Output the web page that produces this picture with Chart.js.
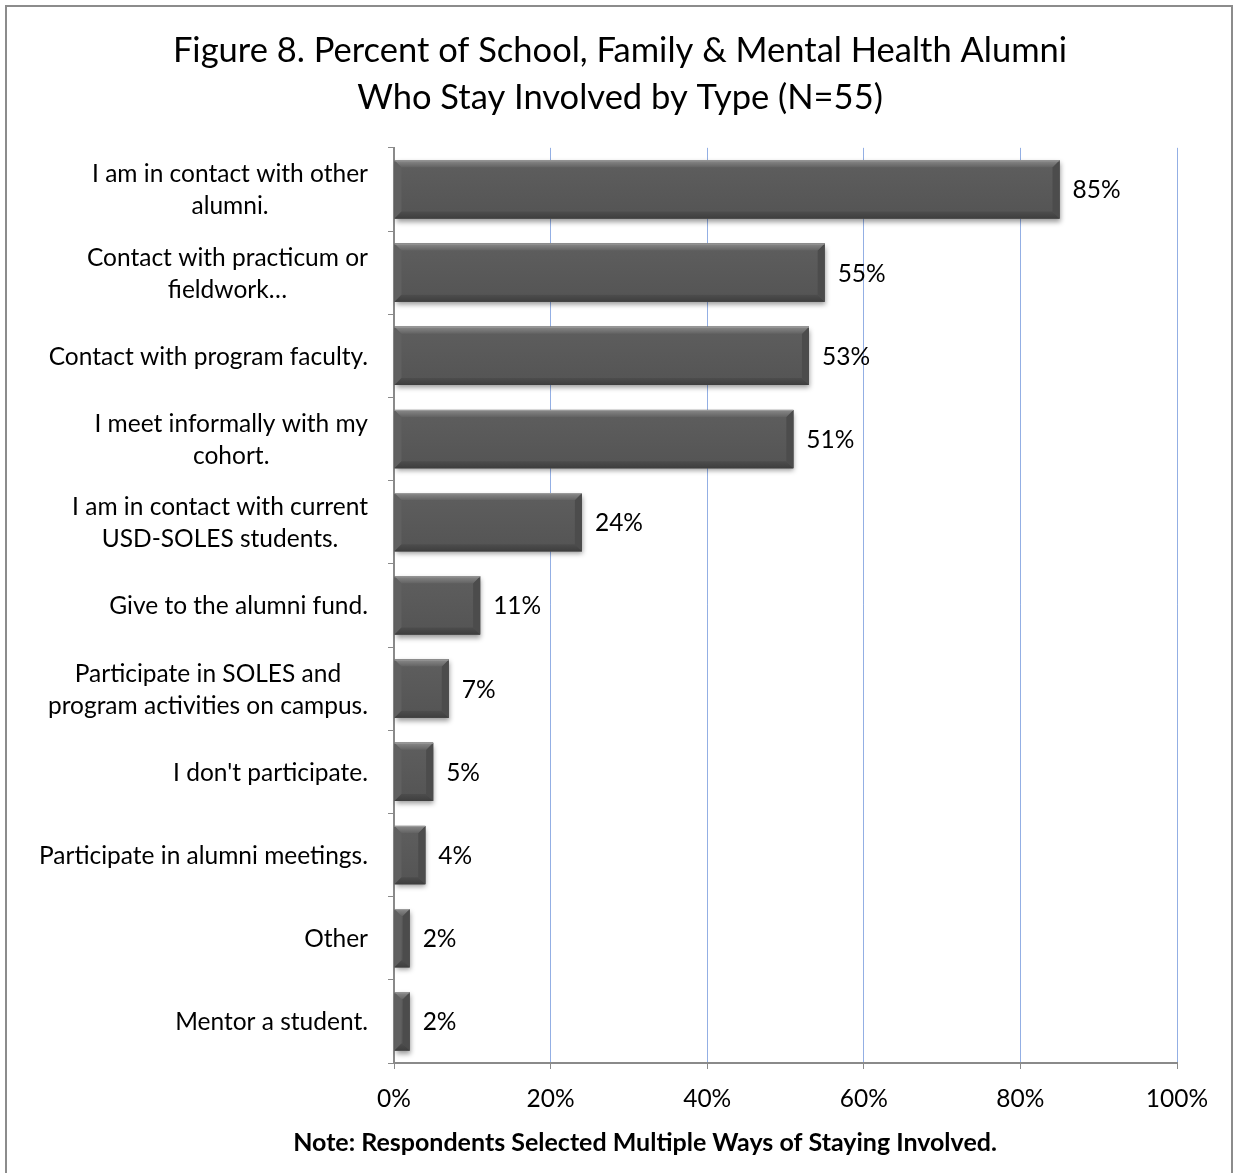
<!DOCTYPE html>
<html>
<head>
<meta charset="utf-8">
<script src="https://cdn.jsdelivr.net/npm/chart.js@4.4.1/dist/chart.umd.min.js"></script>
<style>
  html, body { margin: 0; padding: 0; background: #ffffff; }
  #wrap { width: 1235px; height: 1173px; }
</style>
</head>
<body>
<div id="wrap"><canvas id="chart" width="1235" height="1173"></canvas></div>
<script>
// Ways alumni stay involved (percent of respondents, N=55)
const categories = [
  ["I am in contact with other", "alumni."],
  ["Contact with practicum or", "fieldwork\u2026"],
  ["Contact with program faculty."],
  ["I meet informally with my", "cohort."],
  ["I am in contact with current", "USD-SOLES students."],
  ["Give to the alumni fund."],
  ["Participate in SOLES and", "program activities on campus."],
  ["I don't participate."],
  ["Participate in alumni meetings."],
  ["Other"],
  ["Mentor a student."]
];
const percents = [85, 55, 53, 51, 24, 11, 7, 5, 4, 2, 2];
const xTicks = [0, 20, 40, 60, 80, 100];
const titleLines = [
  "Figure 8. Percent of School, Family & Mental Health Alumni",
  "Who Stay Involved by Type (N=55)"
];
const noteText = "Note: Respondents Selected Multiple Ways of Staying Involved.";

const FONT = "Lato, 'Open Sans', sans-serif";
const LABEL_SIZE = 24.5;
const BAR_COLOR = '#595959';
const AXIS_GRAY = '#8a8a8a';
const GRID_BLUE = '#93afe4';

// white page with a thin gray frame
const framePlugin = {
  id: 'frame',
  beforeDraw(chart) {
    const ctx = chart.ctx;
    ctx.save();
    ctx.fillStyle = '#ffffff';
    ctx.fillRect(0, 0, chart.width, chart.height);
    ctx.strokeStyle = '#8c8c8c';
    ctx.lineWidth = 2;
    ctx.strokeRect(6, 6, chart.width - 3 - 6, chart.height + 20);
    ctx.restore();
  }
};

// soft drop shadow under each bar
const shadowPlugin = {
  id: 'barShadow',
  beforeDatasetsDraw(chart) {
    const ctx = chart.ctx;
    const meta = chart.getDatasetMeta(0);
    ctx.save();
    ctx.shadowColor = 'rgba(0,0,0,0.4)';
    ctx.shadowBlur = 5;
    ctx.shadowOffsetX = 1;
    ctx.shadowOffsetY = 3;
    ctx.fillStyle = BAR_COLOR;
    meta.data.forEach(bar => {
      const p = bar.getProps(['x', 'y', 'base', 'height'], true);
      ctx.fillRect(p.base, p.y - p.height / 2, p.x - p.base, p.height);
    });
    ctx.restore();
  }
};

// bevelled edges on each bar plus value labels
const bevelPlugin = {
  id: 'bevel',
  afterDatasetsDraw(chart) {
    const ctx = chart.ctx;
    const meta = chart.getDatasetMeta(0);
    ctx.save();
    meta.data.forEach((bar, i) => {
      const p = bar.getProps(['x', 'y', 'base', 'height'], true);
      const x0 = p.base, x1 = p.x;
      const y0 = p.y - p.height / 2, y1 = p.y + p.height / 2;
      const b = Math.min(7, (x1 - x0) / 2, p.height / 2);

      const poly = (pts, fill) => {
        ctx.beginPath();
        ctx.moveTo(pts[0][0], pts[0][1]);
        for (let k = 1; k < pts.length; k++) ctx.lineTo(pts[k][0], pts[k][1]);
        ctx.closePath();
        ctx.fillStyle = fill;
        ctx.fill();
      };

      // body shading: slightly darker towards the bottom
      const gbody = ctx.createLinearGradient(0, y0, 0, y1);
      gbody.addColorStop(0, '#5e5e5e');
      gbody.addColorStop(1, '#545454');
      ctx.fillStyle = gbody;
      ctx.fillRect(x0, y0, x1 - x0, y1 - y0);

      // left edge
      poly([[x0, y0], [x0 + b, y0 + b], [x0 + b, y1 - b], [x0, y1]], '#606060');
      // right edge
      poly([[x1, y0], [x1 - b, y0 + b], [x1 - b, y1 - b], [x1, y1]], '#4c4c4c');
      // bottom edge
      const gb = ctx.createLinearGradient(0, y1 - b, 0, y1);
      gb.addColorStop(0, '#4d4d4d');
      gb.addColorStop(1, '#3e3e3e');
      poly([[x0, y1], [x0 + b, y1 - b], [x1 - b, y1 - b], [x1, y1]], gb);
      // top edge
      const gt = ctx.createLinearGradient(0, y0, 0, y0 + b);
      gt.addColorStop(0, '#8a8a8a');
      gt.addColorStop(1, '#636363');
      poly([[x0, y0], [x1, y0], [x1 - b, y0 + b], [x0 + b, y0 + b]], gt);
      // top highlight line
      ctx.fillStyle = '#9c9c9c';
      ctx.fillRect(x0, y0, x1 - x0, 1);

      // value label
      ctx.fillStyle = '#000000';
      ctx.font = LABEL_SIZE + 'px ' + FONT;
      ctx.textAlign = 'left';
      ctx.textBaseline = 'middle';
      ctx.fillText(percents[i] + '%', x1 + 13, p.y + 1);
    });
    ctx.restore();
  }
};

// category labels: each block right-aligned, lines centred inside the block
const categoryLabelPlugin = {
  id: 'categoryLabels',
  afterDraw(chart) {
    const ctx = chart.ctx;
    const yScale = chart.scales.y;
    const right = yScale.right - 26;
    const lineH = 32;
    ctx.save();
    ctx.font = LABEL_SIZE + 'px ' + FONT;
    ctx.fillStyle = '#000000';
    ctx.textAlign = 'center';
    ctx.textBaseline = 'middle';
    categories.forEach((lines, i) => {
      const cy = yScale.getPixelForTick(i) + 1;
      const w = Math.max(...lines.map(l => ctx.measureText(l).width));
      const cx = right - w / 2;
      const startY = cy - (lines.length - 1) * lineH / 2;
      lines.forEach((l, k) => ctx.fillText(l, cx, startY + k * lineH));
    });
    // footnote
    ctx.font = 'bold 25px ' + FONT;
    ctx.fillText(noteText, 645, 1143);
    ctx.restore();
  }
};

new Chart(document.getElementById('chart'), {
  type: 'bar',
  data: {
    labels: categories,
    datasets: [{
      data: percents,
      backgroundColor: BAR_COLOR,
      borderWidth: 0,
      categoryPercentage: 1.0,
      barPercentage: 0.7
    }]
  },
  plugins: [framePlugin, shadowPlugin, bevelPlugin, categoryLabelPlugin],
  options: {
    indexAxis: 'y',
    responsive: false,
    animation: false,
    events: [],
    layout: { padding: { top: 0, left: 63, right: 58, bottom: 50 } },
    plugins: {
      legend: { display: false },
      tooltip: { enabled: false },
      title: {
        display: true,
        text: titleLines,
        color: '#000000',
        font: { family: FONT, size: 34.5, weight: 'normal', lineHeight: 1.36 },
        padding: { top: 27, bottom: 27 }
      }
    },
    scales: {
      x: {
        min: 0,
        max: 100,
        afterBuildTicks(scale) {
          scale.ticks = xTicks.map(v => ({ value: v }));
        },
        afterFit(scale) { scale.height = 60; },
        ticks: {
          color: '#000000',
          font: { family: FONT, size: LABEL_SIZE },
          padding: 15,
          callback: v => v + '%'
        },
        grid: {
          color: ctx => (ctx.tick && ctx.tick.value === 0) ? AXIS_GRAY : GRID_BLUE,
          tickColor: AXIS_GRAY,
          tickLength: 6,
          lineWidth: 1
        },
        border: { color: AXIS_GRAY, width: 2 }
      },
      y: {
        afterFit(scale) { scale.width = 331; },
        ticks: { display: false },
        grid: {
          offset: true,
          drawOnChartArea: false,
          tickColor: AXIS_GRAY,
          tickLength: 6
        },
        border: { color: AXIS_GRAY, width: 2 }
      }
    }
  }
});
</script>
</body>
</html>
